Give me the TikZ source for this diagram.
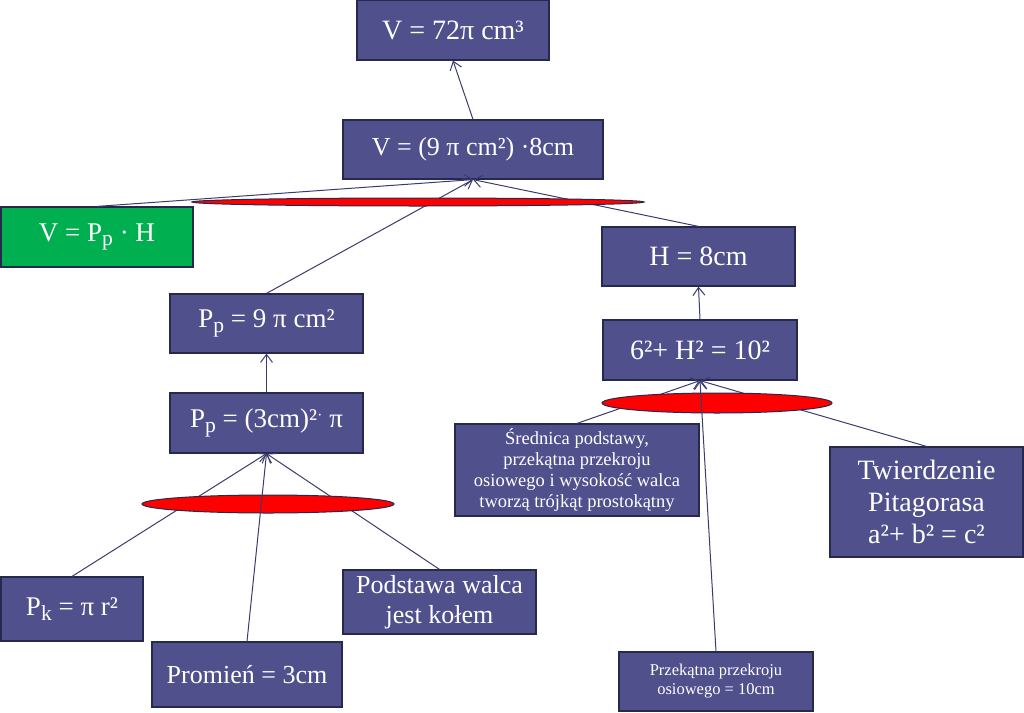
\documentclass[tikz,border=0pt]{standalone}
\usepackage{fontspec}
\setmainfont{Liberation Serif}
\usetikzlibrary{arrows.meta,shapes.geometric}
\definecolor{boxblue}{RGB}{79,80,140}
\definecolor{boxedge}{RGB}{38,40,78}
\definecolor{linecol}{RGB}{58,60,108}
\definecolor{boxgreen}{RGB}{0,176,80}
\definecolor{ellred}{RGB}{255,0,0}
\newcommand\psub[1]{\raisebox{-0.38ex}{\scalebox{0.8}{#1}}}
\newcommand\fs[2]{\fontsize{#1}{#2}\selectfont}
\begin{document}
\begin{tikzpicture}[x=1pt,y=-1pt,
  box/.style={rectangle, draw=boxedge, fill=boxblue, text=white, line width=1.2pt, inner sep=0pt, align=center},
  greenbox/.style={box, fill=boxgreen},
  link/.style={draw=linecol, line width=1pt},
  arr/.style={link, -{Straight Barb[length=8pt,width=12pt,line width=1pt]}},
  oval/.style={ellipse, draw=boxedge, fill=ellred, line width=1pt, inner sep=0pt}]
\useasboundingbox (0,0) rectangle (1024,712);

% nodes
\node[box, minimum width=192pt, minimum height=60pt, font=\fs{28}{32}] (A) at (453,30) {V = 72π cm³};
\node[box, minimum width=260pt, minimum height=59pt, font=\fs{26}{30}] (B) at (473,149.5) {V = (9 π cm²) ·8cm};
\node[greenbox, minimum width=192pt, minimum height=60pt, font=\fs{27}{30}] (G) at (97,237) {V = P\psub{p} · H};
\node[box, minimum width=193pt, minimum height=59pt, font=\fs{27}{30}] (C) at (266.5,323.5) {P\psub{p} = 9 π cm²};
\node[box, minimum width=193pt, minimum height=60pt, font=\fs{27}{30}] (D) at (266.5,423) {P\psub{p} = (3cm)²\raisebox{0.55ex}{\scalebox{0.6}{·}} π};
\node[box, minimum width=193pt, minimum height=59pt, font=\fs{28}{30}] (H) at (698.5,256.5) {H = 8cm};
\node[box, minimum width=194pt, minimum height=60pt, font=\fs{28}{30}] (E) at (700,350) {6²+ H² = 10²};
\node[box, minimum width=244pt, minimum height=92pt, font=\fs{18.5}{21.3}] (S) at (577,470) {Średnica podstawy,\\przekątna przekroju\\osiowego i wysokość walca\\tworzą trójkąt prostokątny};
\node[box, minimum width=193pt, minimum height=110pt, font=\fs{28}{32}] (T) at (926.5,502) {Twierdzenie\\Pitagorasa\\a²+ b² = c²};
\node[box, minimum width=194pt, minimum height=59pt, font=\fs{16.5}{19}] (Pz) at (716,681.5) {Przekątna przekroju\\osiowego = 10cm};
\node[box, minimum width=142pt, minimum height=64pt, font=\fs{27}{30}] (Pk) at (72,609) {P\psub{k} = π r²};
\node[box, minimum width=190pt, minimum height=65pt, font=\fs{26}{30}] (Pr) at (247,674.5) {Promień = 3cm};
\node[box, minimum width=193pt, minimum height=64pt, font=\fs{26}{30}] (Po) at (439.5,602) {Podstawa walca\\jest kołem};

% connectors hidden behind the ovals
\draw[arr] (B.north) -- (A.south);
\draw[arr] (G.north) -- (B.south);
\draw[arr] (C.north) -- (B.south);
\draw[arr] (H.north) -- (B.south);
\draw[arr] (D.north) -- (C.south);
\draw[arr] (E.north) -- (H.south);
\draw[arr] (Pk.north) -- (D.south);
\draw[arr] (Po.north) -- (D.south);
\draw[arr] (S.north) -- (E.south);
\draw[arr] (T.north) -- (E.south);

% ovals
\node[oval, minimum width=452pt, minimum height=8pt] (O1) at (418,202) {};
\node[oval, minimum width=230pt, minimum height=20pt] (O2) at (717,403) {};
\node[oval, minimum width=252pt, minimum height=18pt] (O3) at (268,504) {};

% connectors drawn over the ovals
\draw[arr] (Pr.north) -- (D.south);
\draw[arr] (Pz.north) -- (E.south);
\end{tikzpicture}
\end{document}
